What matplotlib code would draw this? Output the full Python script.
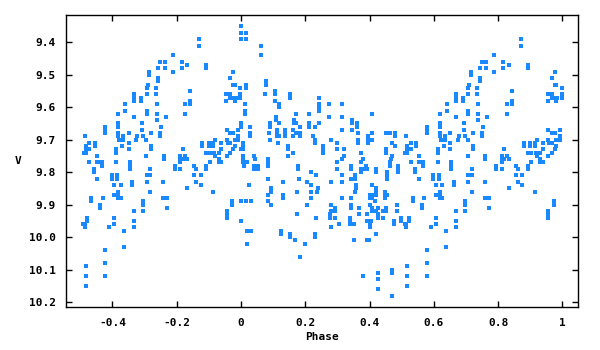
import matplotlib
matplotlib.use("Agg")
import matplotlib.pyplot as plt
import numpy as np

# folded light curve, phase in [-0.5, 0.5), V magnitude
phase = [
    -0.251, -0.257, -0.285, -0.285, -0.257, -0.257, -0.289, -0.292, -0.264, -0.264,
    -0.292, -0.332, -0.332, -0.310, -0.332, -0.310, -0.261, -0.360, -0.360, -0.292,
    -0.292, -0.382, -0.261, -0.332, -0.261, -0.307, -0.382, -0.382, -0.422, -0.248,
    -0.422, -0.422, -0.307, -0.382, -0.382, -0.348, -0.279, -0.251, -0.251, -0.485,
    -0.366, -0.366, -0.379, -0.323, -0.326, -0.304, -0.295, -0.472, -0.454, -0.454,
    -0.348, -0.279, -0.279, -0.482, -0.482, -0.369, -0.472, -0.348, -0.388, -0.388,
    -0.488, -0.482, -0.447, -0.295, -0.472, -0.447, -0.441, -0.432, -0.388, -0.345,
    -0.432, -0.345, -0.345, -0.282, -0.457, -0.457, -0.401, -0.401, -0.385, -0.385,
    -0.292, -0.282, -0.447, -0.292, -0.338, -0.338, -0.394, -0.373, -0.242, -0.282,
    -0.382, -0.394, -0.382, -0.382, -0.373, -0.429, -0.466, -0.466, -0.242, -0.304,
    -0.304, -0.438, -0.438, -0.332, -0.304, -0.478, -0.478, -0.394, -0.332, -0.491,
    -0.485, -0.485, -0.394, -0.410, -0.332, -0.363, -0.363, -0.422, -0.422, -0.482,
    -0.482, -0.422, -0.482,
    0.001, 0.001, 0.017, 0.001, 0.017, -0.130, -0.130, -0.211, -0.183, -0.236,
    -0.236, -0.167, -0.183, -0.108, -0.108, -0.211, -0.024, -0.033, -0.024, -0.018,
    0.017, 0.017, -0.002, -0.158, -0.046, -0.033, -0.033, -0.024, -0.015, -0.002,
    -0.002, -0.046, -0.018, -0.158, -0.158, -0.173, 0.013, 0.013, 0.013, -0.173,
    -0.233, 0.001, 0.001, -0.043, -0.008, -0.033, -0.024, -0.008, -0.043, -0.018,
    -0.008, -0.080, -0.040, -0.033, -0.120, -0.120, -0.099, -0.099, -0.086, -0.086,
    -0.061, -0.018, 0.007, 0.007, 0.007, -0.024, 0.001, -0.061, -0.180, -0.108,
    -0.096, -0.083, -0.068, -0.033, -0.080, -0.043, -0.189, -0.189, -0.189, -0.173,
    -0.180, -0.167, -0.239, -0.239, -0.068, -0.068, -0.061, 0.007, 0.007, 0.007,
    0.020, -0.096, -0.205, -0.205, -0.189, -0.145, -0.139, -0.108, -0.108, 0.010,
    -0.145, -0.124, -0.139, -0.124, -0.167, -0.086, -0.229, -0.229, -0.027, -0.027,
    0.001, 0.017, -0.043, -0.043, -0.043, 0.001, 0.020, 0.020,
    0.063, 0.063, 0.079, 0.079, 0.107, 0.107, 0.076, 0.153, 0.153, 0.244,
    0.107, 0.119, 0.119, 0.244, 0.244, 0.244, 0.275, 0.172, 0.213, 0.275,
    0.110, 0.110, 0.166, 0.166, 0.172, 0.091, 0.091, 0.119, 0.244, 0.185,
    0.213, 0.213, 0.231, 0.029, 0.163, 0.113, 0.113, 0.113, 0.138, 0.138,
    0.138, 0.088, 0.029, 0.029, 0.172, 0.185, 0.185, 0.163, 0.119, 0.225,
    0.231, 0.091, 0.281, 0.116, 0.231, 0.147, 0.147, 0.256, 0.256, 0.256,
    0.163, 0.041, 0.045, 0.147, 0.085, 0.085, 0.041, 0.041, 0.054, 0.054,
    0.085, 0.178, 0.178, 0.219, 0.234, 0.085, 0.132, 0.181, 0.206, 0.219,
    0.281, 0.026, 0.094, 0.094, 0.241, 0.238, 0.175, 0.219, 0.085, 0.132,
    0.132, 0.219, 0.032, 0.085, 0.094, 0.206, 0.281, 0.281, 0.278, 0.278,
    0.175, 0.234, 0.281, 0.032, 0.125, 0.125, 0.153, 0.231, 0.153, 0.231,
    0.169, 0.200, 0.185,
    0.315, 0.409, 0.315, 0.346, 0.346, 0.362, 0.362, 0.315, 0.346, 0.365,
    0.409, 0.452, 0.465, 0.480, 0.480, 0.365, 0.396, 0.396, 0.409, 0.300,
    0.365, 0.396, 0.471, 0.480, 0.300, 0.322, 0.452, 0.452, 0.374, 0.322,
    0.471, 0.468, 0.465, 0.315, 0.381, 0.300, 0.374, 0.343, 0.343, 0.390,
    0.374, 0.374, 0.384, 0.393, 0.300, 0.421, 0.421, 0.465, 0.490, 0.490,
    0.490, 0.455, 0.455, 0.455, 0.315, 0.356, 0.356, 0.343, 0.315, 0.409,
    0.359, 0.359, 0.356, 0.421, 0.421, 0.449, 0.421, 0.402, 0.402, 0.409,
    0.409, 0.449, 0.455, 0.449, 0.315, 0.343, 0.418, 0.343, 0.402, 0.487,
    0.294, 0.294, 0.343, 0.368, 0.409, 0.409, 0.427, 0.452, 0.452, 0.421,
    0.443, 0.487, 0.368, 0.393, 0.427, 0.427, 0.443, 0.294, 0.340, 0.340,
    0.393, 0.406, 0.499, 0.499, 0.477, 0.306, 0.340, 0.353, 0.402, 0.402,
    0.477, 0.421, 0.353, 0.393, 0.399, 0.427, 0.471, 0.471, 0.381, 0.427,
    0.427, 0.471,
]

vmag = [
    9.46, 9.48, 9.49, 9.50, 9.51, 9.52, 9.53, 9.54, 9.54, 9.56,
    9.56, 9.56, 9.57, 9.57, 9.58, 9.58, 9.59, 9.59, 9.61, 9.61,
    9.62, 9.62, 9.62, 9.63, 9.64, 9.65, 9.65, 9.66, 9.66, 9.66,
    9.67, 9.68, 9.67, 9.68, 9.69, 9.68, 9.68, 9.68, 9.69, 9.69,
    9.69, 9.70, 9.70, 9.69, 9.70, 9.69, 9.70, 9.71, 9.71, 9.72,
    9.71, 9.72, 9.73, 9.72, 9.73, 9.72, 9.73, 9.73, 9.73, 9.74,
    9.74, 9.74, 9.75, 9.75, 9.77, 9.77, 9.77, 9.77, 9.77, 9.77,
    9.78, 9.78, 9.79, 9.79, 9.79, 9.80, 9.81, 9.82, 9.81, 9.82,
    9.81, 9.81, 9.82, 9.83, 9.83, 9.84, 9.84, 9.84, 9.83, 9.86,
    9.86, 9.87, 9.87, 9.88, 9.88, 9.88, 9.88, 9.89, 9.88, 9.89,
    9.90, 9.90, 9.91, 9.92, 9.92, 9.94, 9.95, 9.94, 9.95, 9.96,
    9.96, 9.97, 9.96, 9.97, 9.97, 9.98, 10.03, 10.04, 10.08, 10.09,
    10.12, 10.12, 10.15,
    9.35, 9.37, 9.37, 9.39, 9.39, 9.39, 9.41, 9.44, 9.46, 9.46,
    9.48, 9.47, 9.48, 9.47, 9.48, 9.49, 9.49, 9.51, 9.53, 9.53,
    9.53, 9.54, 9.54, 9.55, 9.56, 9.56, 9.57, 9.57, 9.57, 9.56,
    9.57, 9.58, 9.58, 9.58, 9.59, 9.59, 9.59, 9.61, 9.62, 9.62,
    9.63, 9.65, 9.66, 9.67, 9.67, 9.68, 9.68, 9.69, 9.70, 9.70,
    9.70, 9.70, 9.71, 9.71, 9.71, 9.72, 9.71, 9.72, 9.71, 9.72,
    9.71, 9.72, 9.71, 9.72, 9.73, 9.73, 9.73, 9.73, 9.73, 9.74,
    9.74, 9.74, 9.74, 9.74, 9.75, 9.75, 9.75, 9.76, 9.77, 9.75,
    9.76, 9.76, 9.75, 9.76, 9.76, 9.77, 9.77, 9.75, 9.76, 9.77,
    9.77, 9.77, 9.78, 9.79, 9.79, 9.78, 9.79, 9.78, 9.79, 9.78,
    9.81, 9.81, 9.83, 9.84, 9.85, 9.86, 9.88, 9.91, 9.89, 9.90,
    9.89, 9.89, 9.92, 9.93, 9.94, 9.95, 9.98, 10.02,
    9.41, 9.44, 9.52, 9.53, 9.55, 9.56, 9.56, 9.56, 9.57, 9.57,
    9.58, 9.59, 9.60, 9.59, 9.60, 9.61, 9.59, 9.62, 9.62, 9.63,
    9.63, 9.64, 9.64, 9.65, 9.65, 9.65, 9.66, 9.65, 9.65, 9.66,
    9.65, 9.66, 9.66, 9.66, 9.67, 9.67, 9.68, 9.69, 9.67, 9.68,
    9.69, 9.68, 9.68, 9.69, 9.68, 9.68, 9.69, 9.69, 9.69, 9.69,
    9.70, 9.70, 9.70, 9.71, 9.71, 9.72, 9.73, 9.72, 9.73, 9.74,
    9.74, 9.75, 9.76, 9.75, 9.76, 9.77, 9.78, 9.79, 9.78, 9.79,
    9.78, 9.78, 9.79, 9.80, 9.81, 9.82, 9.83, 9.82, 9.83, 9.84,
    9.83, 9.84, 9.85, 9.86, 9.85, 9.86, 9.86, 9.86, 9.87, 9.87,
    9.88, 9.88, 9.89, 9.89, 9.90, 9.90, 9.90, 9.92, 9.93, 9.94,
    9.93, 9.94, 9.97, 9.98, 9.98, 9.99, 9.99, 9.99, 10.00, 10.00,
    10.01, 10.02, 10.06,
    9.59, 9.62, 9.63, 9.64, 9.65, 9.65, 9.66, 9.67, 9.67, 9.68,
    9.68, 9.68, 9.68, 9.68, 9.69, 9.70, 9.69, 9.70, 9.70, 9.71,
    9.71, 9.71, 9.71, 9.72, 9.73, 9.73, 9.73, 9.74, 9.74, 9.75,
    9.75, 9.76, 9.77, 9.76, 9.76, 9.77, 9.77, 9.78, 9.79, 9.78,
    9.79, 9.80, 9.79, 9.79, 9.79, 9.79, 9.80, 9.78, 9.78, 9.79,
    9.80, 9.80, 9.81, 9.82, 9.81, 9.81, 9.82, 9.82, 9.83, 9.84,
    9.84, 9.85, 9.86, 9.85, 9.86, 9.86, 9.87, 9.87, 9.88, 9.87,
    9.88, 9.87, 9.87, 9.88, 9.88, 9.88, 9.89, 9.90, 9.90, 9.90,
    9.91, 9.92, 9.91, 9.91, 9.91, 9.92, 9.91, 9.91, 9.92, 9.92,
    9.92, 9.92, 9.93, 9.93, 9.93, 9.94, 9.94, 9.94, 9.94, 9.95,
    9.95, 9.95, 9.94, 9.95, 9.95, 9.96, 9.96, 9.96, 9.96, 9.97,
    9.96, 9.99, 10.01, 10.01, 10.01, 10.11, 10.10, 10.11, 10.12, 10.13,
    10.16, 10.18,
]

x_ticks = [-0.4, -0.2, 0, 0.2, 0.4, 0.6, 0.8, 1]
x_tick_labels = ["-0.4", "-0.2", "0", "0.2", "0.4", "0.6", "0.8", "1"]
y_ticks = [9.4, 9.5, 9.6, 9.7, 9.8, 9.9, 10.0, 10.1, 10.2]
y_tick_labels = ["9.4", "9.5", "9.6", "9.7", "9.8", "9.9", "10.0", "10.1", "10.2"]

phase = np.array(phase)
vmag = np.array(vmag)

# second cycle: the first half of the phase range is repeated after 0.5
neg = phase < 0
ph_all = np.concatenate([phase, phase[neg] + 1.0])
v_all = np.concatenate([vmag, vmag[neg]])

fig = plt.figure(figsize=(6, 3.5), dpi=100)
ax = fig.add_axes([0.1095, 0.123, 0.8543, 0.834])

ax.plot(ph_all, v_all, linestyle="none", marker="s", markersize=2.3,
        markeredgewidth=0, color="#1a88ff")

ax.set_xlim(-0.5456, 1.0498)
ax.set_ylim(10.215, 9.316)

font = {"family": "DejaVu Sans Mono", "weight": "bold", "size": 8}
ax.set_xticks(x_ticks)
ax.set_xticklabels(x_tick_labels, fontdict=font)
ax.set_yticks(y_ticks)
ax.set_yticklabels(y_tick_labels, fontdict=font)
ax.tick_params(direction="in", length=4, width=1, top=True, right=True,
               color="black")
ax.tick_params(axis="x", pad=8)
ax.tick_params(axis="y", pad=7)
for s in ax.spines.values():
    s.set_linewidth(1)

ax.set_xlabel("Phase", fontdict=font, labelpad=3)
ax.set_ylabel("V", fontdict=font, rotation=0, labelpad=8, va="center")

fig.savefig("out.png", dpi=100)
